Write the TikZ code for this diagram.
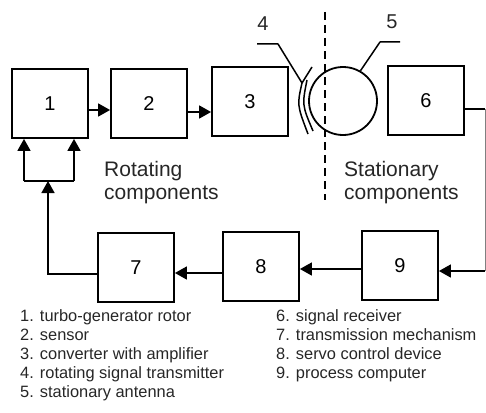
\documentclass[tikz,border=0pt]{standalone}
\usepackage{fontspec}
\setmainfont{Liberation Sans}
\usetikzlibrary{arrows.meta}
\begin{document}
\begin{tikzpicture}[x=1pt,y=-1pt,
  blk/.style={draw, line width=1.8pt, minimum width=76pt, minimum height=69pt, inner sep=0pt, font=\fontsize{20}{24}\selectfont},
  wire/.style={line width=1.6pt},
  arr/.style={wire, -{Triangle[length=12pt,width=13pt]}},
  lbl/.style={font=\fontsize{21}{23}\selectfont, align=left, inner sep=0pt, text=black!85},
  leg/.style={font=\fontsize{16.4}{19.2}\selectfont, align=left, inner sep=0pt, text=black!85}]
\useasboundingbox (0,0) rectangle (486,412);
% blocks
\node[blk] (b1) at (50,103.5) {1};
\node[blk] (b2) at (149,103.5) {2};
\node[blk] (b3) at (250,101.5) {3};
\node[blk] (b6) at (426,100.5) {6};
\node[blk] (b7) at (136,267.5) {7};
\node[blk] (b8) at (261,266.5) {8};
\node[blk] (b9) at (400,265.5) {9};
\node[draw, circle, line width=1.8pt, minimum size=68pt, inner sep=0pt] (ant) at (343,101) {};
% forward path
\draw[arr] ([yshift=-6.5pt]b1.east) -- ([yshift=-6.5pt]b2.west);
\draw[arr] ([yshift=-8.5pt]b2.east) -- ([yshift=-10.5pt]b3.west);
% separator
\coordinate (s1) at (325,12);
\coordinate (s2) at (325,200);
\draw[line width=2pt, dash pattern=on 8pt off 5pt] (s1) -- (s2);
% transmitter 4
\node[font=\fontsize{20}{24}\selectfont, inner sep=0pt, text=black!85] (n4) at (263,24) {4};
\coordinate (l4a) at (257,44);
\coordinate (l4b) at (278,44);
\coordinate (l4c) at (302,83);
\coordinate (l4d) at (312,67);
\draw[line width=1.5pt, line join=round] (l4a) -- (l4b) -- (l4c) -- (l4d);
\draw[line width=1.5pt] (l4c) .. controls (297,105) .. (308,134);
\draw[line width=1.5pt] (307,80) .. controls (302,105) .. (313,131);
% antenna 5
\node[font=\fontsize{20}{24}\selectfont, inner sep=0pt, text=black!85] (n5) at (392,22) {5};
\coordinate (l5a) at (400,42);
\coordinate (l5b) at (380,42);
\draw[line width=1.5pt, line join=round] (l5a) -- (l5b) -- (ant.60);
% labels
\node[lbl, anchor=north west] (rot) at (104,161) {Rotating\\components};
\node[lbl, anchor=north west] (sta) at (344,161) {Stationary\\components};
% feedback path
\coordinate (r1) at (485,109);
\coordinate (r2) at (485,271);
\draw[wire] ([yshift=-8.5pt]b6.east) -- (r1);
\draw[line width=0.6pt, gray] (r1) -- (r2);
\draw[arr] (r2) -- ([yshift=-5.5pt]b9.east);
\draw[arr] ([yshift=-3.5pt]b9.west) -- ([yshift=-2.5pt]b8.east);
\draw[arr] ([yshift=-6.5pt]b8.west) -- ([yshift=-5.5pt]b7.east);
\coordinate (f1) at (48,274);
\coordinate (j) at (48,181);
\coordinate (jl) at (24,181);
\coordinate (jr) at (74,181);
\draw[arr] ([yshift=-6.5pt]b7.west) -- (f1) -- (j);
\draw[wire] (jl) -- (jr);
\draw[arr] (jl) -- (jl |- b1.south);
\draw[arr] (jr) -- (jr |- b1.south);
% legend
\node[leg, anchor=north west] (leg1) at (20,309) {1. turbo-generator rotor\\2. sensor\\3. converter with amplifier\\4. rotating signal transmitter\\5. stationary antenna};
\node[leg, anchor=north west] (leg2) at (276,309) {6. signal receiver\\7. transmission mechanism\\8. servo control device\\9. process computer};
\end{tikzpicture}
\end{document}
